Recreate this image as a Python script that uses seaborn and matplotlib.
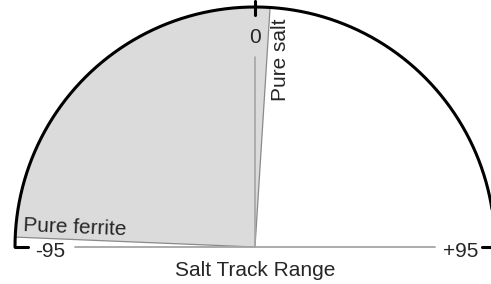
import matplotlib
matplotlib.use('Agg')
import matplotlib.pyplot as plt
import seaborn as sns
import numpy as np
import pandas as pd

# gauge scale
scale_min = -95
scale_max = 95
tick_values = [-95, 0, 95]
tick_labels = ['-95', '0', '+95']

# shaded wedge between the two end members
ferrite_value = -92.5
salt_value = 3.8
ferrite_label = 'Pure ferrite'
salt_label = 'Pure salt'
axis_title = 'Salt Track Range'


def to_xy(v, r=1.0):
    a = np.deg2rad(np.asarray(v, dtype=float) / scale_max * 90)
    return r * np.sin(a), r * np.cos(a)


sns.set_style('white')
plt.rcParams['font.family'] = ['Liberation Sans', 'DejaVu Sans']

fig = plt.figure(figsize=(4.91, 2.84), dpi=100)
ax = fig.add_axes([0, 0, 1, 1])

# shaded wedge
wv = np.linspace(ferrite_value, salt_value, 200)
wx, wy = to_xy(wv)
ax.fill(np.r_[0, wx, 0], np.r_[0, wy, 0], color='#dbdbdb', lw=0, zorder=1)
for v in (ferrite_value, salt_value):
    ex, ey = to_xy(v)
    ax.plot([0, ex], [0, ey], color='#8a8a8a', lw=0.9, zorder=2)

# zero reference line and horizontal baseline
zx, zy = to_xy(0, 0.79)
ax.plot([0, zx], [0, zy], color='#a5a5a5', lw=1.2, zorder=2)
ax.plot([-0.75, 0.75], [0, 0], color='#a5a5a5', lw=1.3, zorder=2)

# outer arc
av = np.linspace(scale_min, scale_max, 400)
ax_, ay_ = to_xy(av)
arc = pd.DataFrame({'x': ax_, 'y': ay_})
sns.lineplot(data=arc, x='x', y='y', sort=False, estimator=None,
             color='black', lw=2.2, ax=ax, zorder=3)

# tick marks
lx, ly = to_xy(scale_min)
ax.plot([lx, lx + 0.055], [ly, ly], color='black', lw=2.2, zorder=3)
rx, ry = to_xy(scale_max)
ax.plot([rx, rx - 0.055], [ry, ry], color='black', lw=2.2, zorder=3)
t0 = [to_xy(0, 0.965), to_xy(0, 1.025)]
ax.plot([t0[0][0], t0[1][0]], [t0[0][1], t0[1][1]], color='black', lw=2.2, zorder=3)

# tick labels
fs = 15
for v, lab in zip(tick_values, tick_labels):
    if v == 0:
        ax.text(0, 0.875, lab, ha='center', va='center', fontsize=fs)
    else:
        ax.text(np.sign(v) * 0.855, -0.02, lab, ha='center', va='center', fontsize=fs)

ax.text(0, -0.10, axis_title, ha='center', va='center', fontsize=fs)

rot = np.rad2deg(np.arctan2(*to_xy(ferrite_value)[::-1])) - 180
ax.text(-0.965, 0.09, ferrite_label, ha='left', va='center', fontsize=fs,
        rotation=rot, rotation_mode='anchor')
ax.text(0.108, 0.78, salt_label, ha='center', va='center', fontsize=fs, rotation=90)

ax.set_xlim(-255 / 240, 236 / 240)
ax.set_ylim(-37 / 240, 247 / 240)
ax.set_aspect('equal')
ax.axis('off')

plt.savefig('out.png', dpi=100)
plt.close()
